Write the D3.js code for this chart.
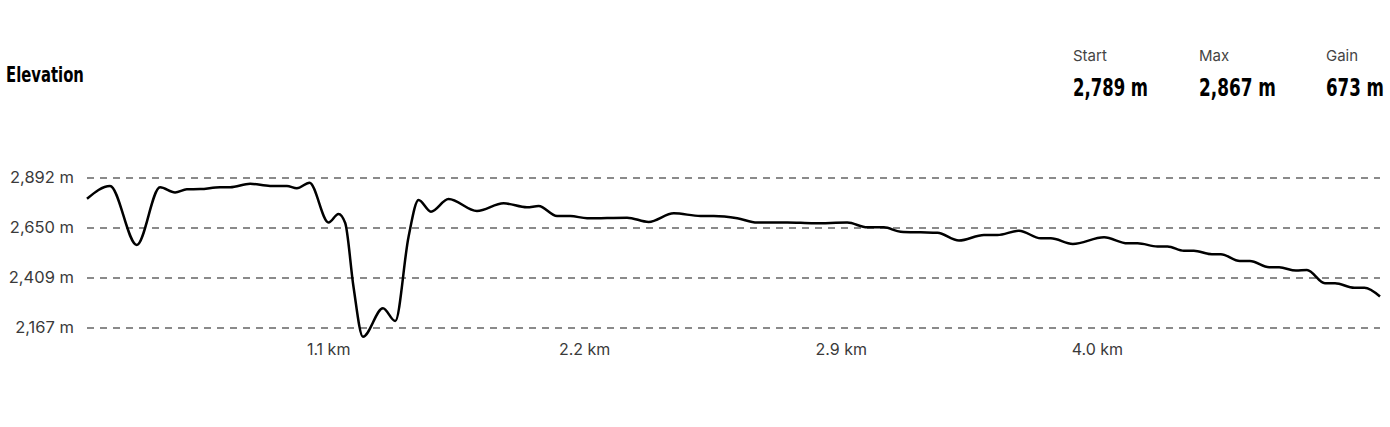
<!DOCTYPE html>
<html>
<head>
<meta charset="utf-8">
<script src="https://cdn.jsdelivr.net/npm/d3@7"></script>
<style>
  body { margin: 0; background: #fff; }
  .title { font-family: "DejaVu Sans Condensed", "DejaVu Sans", sans-serif; font-weight: 700; }
  .stat-label { font-family: Inter, "Noto Sans", sans-serif; fill: #444; }
  .stat-value { font-family: "DejaVu Sans Condensed", "DejaVu Sans", sans-serif; font-weight: 700; fill: #000; }
  .axis text { font-family: Inter, "Noto Sans", sans-serif; fill: #3a3a3a; }
</style>
</head>
<body>
<div id="viz"></div>
<script>
// route position (% of route length) and elevation (m)
const routePct = [0, 1.78, 3.85, 5.65, 6.81, 7.72, 8.75, 10.29, 11.07, 12.62, 14.16, 15.46, 16.23, 17.21,
    18.68, 19.45, 19.97, 20.61, 21.34, 22.89, 23.84, 24.87, 25.64, 26.6, 27.96, 30.16, 32.22, 34.03,
    34.93, 36.35, 37.38, 38.68, 41.77, 43.44, 45.38, 47.45, 48.48, 50.29, 51.83, 54.16, 56.22, 58.8,
    60.35, 61.63, 62.93, 64.47, 65.77, 67.44, 69.37, 70.41, 72.08, 73.76, 74.54, 76.24, 78.66, 80.47,
    81.25, 82.79, 83.57, 84.83, 85.6, 87, 87.69, 89.16, 89.94, 91.43, 92.2, 93.5, 94.35, 95.74, 96.52,
    98.01, 98.79, 100];
const elevation = [2789, 2851, 2566, 2845, 2820, 2835, 2836, 2845, 2845, 2862, 2851, 2851, 2840, 2867,
    2675, 2716, 2672, 2364, 2122, 2260, 2198, 2606, 2783, 2727, 2788, 2730, 2767, 2748,
    2754, 2706, 2706, 2695, 2698, 2677, 2719, 2706, 2706, 2695, 2674, 2675, 2671, 2674,
    2651, 2651, 2630, 2627, 2625, 2587, 2614, 2614, 2635, 2598, 2598, 2571, 2603, 2574,
    2574, 2559, 2559, 2538, 2538, 2521, 2521, 2488, 2488, 2458, 2458, 2442, 2445, 2381, 2381,
    2359, 2359, 2317];

const yTicks = [2167, 2409, 2650, 2892];
const xTickPct = [18.65, 38.45, 58.3, 78.1];
const xTickLabels = ["1.1 km", "2.2 km", "2.9 km", "4.0 km"];

const statLabels = ["Start", "Max", "Gain"];
const statValues = ["2,789 m", "2,867 m", "673 m"];

const width = 1390, height = 427;
const margin = { left: 87, right: 10, top: 177.5, bottom: 99.5 };

const svg = d3.select("#viz").append("svg")
    .attr("width", width)
    .attr("height", height);

const points = routePct.map((p, i) => ({ p: p, e: elevation[i] }));

const xScale = d3.scaleLinear()
    .domain([0, 100])
    .range([margin.left, width - margin.right]);

const yScale = d3.scaleLinear()
    .domain([2167, 2892])
    .range([height - margin.bottom, margin.top]);

// squeeze a text horizontally to a target width (no condensed font installed)
function squeeze(sel, x, y, targetW) {
    const w = sel.node().getComputedTextLength();
    sel.attr("transform", `translate(${x},${y}) scale(${targetW / w},1)`);
}

// title
const title = svg.append("text")
    .attr("class", "title")
    .style("font-size", "22px")
    .text("Elevation");
squeeze(title, 6, 82, 78);

// stats in the top right
const statX = [1073, 1199, 1326];
const statW = [75, 77, 58];
const gStat = svg.selectAll(".stat")
    .data(statLabels)
    .join("g")
        .attr("class", "stat");

gStat.append("text")
    .attr("class", "stat-label")
    .attr("x", (d, i) => statX[i])
    .attr("y", 61)
    .style("font-size", "15px")
    .text(d => d);

gStat.append("text")
    .attr("class", "stat-value")
    .style("font-size", "25px")
    .text((d, i) => statValues[i])
    .each(function(d, i) { squeeze(d3.select(this), statX[i], 96, statW[i]); });

// y axis with dashed gridlines
const yAxis = svg.append("g")
    .attr("class", "axis axis--y")
    .attr("transform", `translate(${margin.left},0)`)
    .call(d3.axisLeft(yScale)
        .tickValues(yTicks)
        .tickSize(-(width - margin.left - margin.right))
        .tickPadding(13)
        .tickFormat(d => d3.format(",")(d) + " m"));

yAxis.selectAll(".domain").remove();
yAxis.selectAll(".tick line")
    .attr("stroke", "#8a8a8a")
    .attr("stroke-width", 2)
    .attr("stroke-dasharray", "7,6");
yAxis.selectAll(".tick text")
    .style("font-size", "16.5px");

// x axis
const xAxis = svg.append("g")
    .attr("class", "axis axis--x")
    .attr("transform", `translate(0,${height - margin.bottom})`)
    .call(d3.axisBottom(xScale)
        .tickValues(xTickPct)
        .tickSize(0)
        .tickPadding(16)
        .tickFormat((d, i) => xTickLabels[i]));

xAxis.selectAll(".domain").remove();
xAxis.selectAll(".tick text")
    .style("font-size", "16px");

// elevation line
const line = d3.line()
    .x(d => xScale(d.p))
    .y(d => yScale(d.e))
    .curve(d3.curveMonotoneX);

svg.append("path")
    .datum(points)
    .attr("fill", "none")
    .attr("stroke", "#000")
    .attr("stroke-width", 2.5)
    .attr("stroke-linejoin", "round")
    .attr("d", line);
</script>
</body>
</html>
